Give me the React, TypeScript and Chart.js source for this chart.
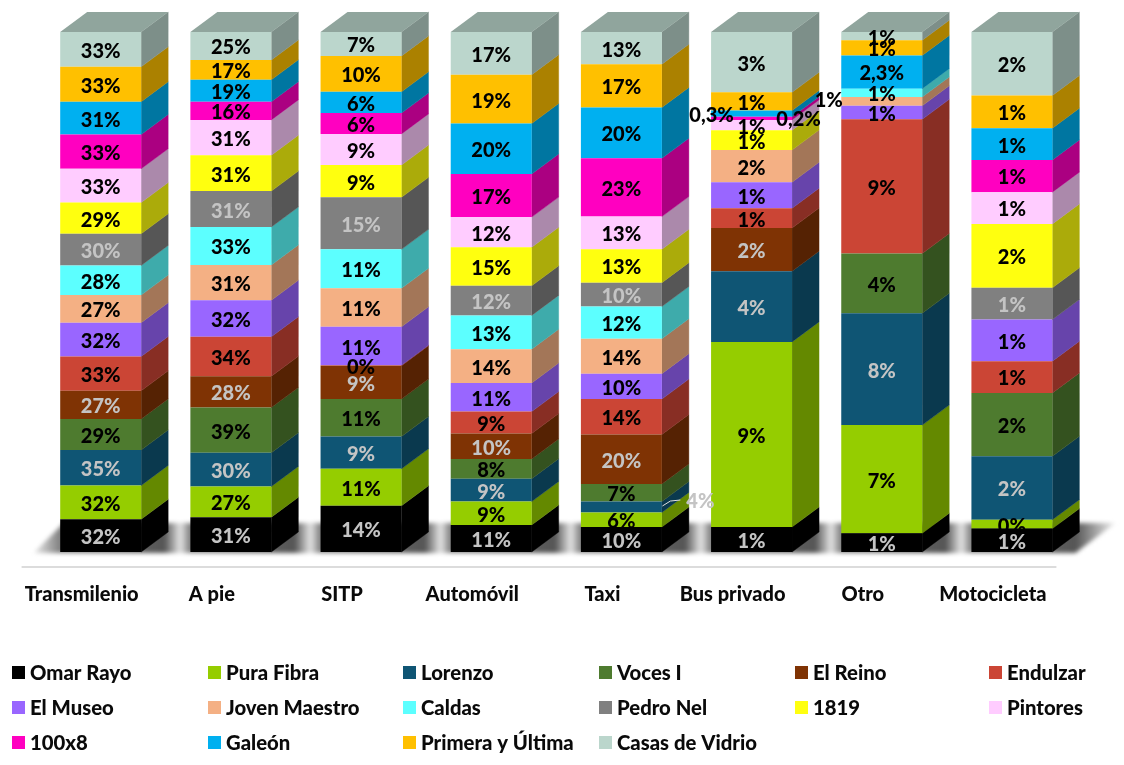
import React, { useEffect, useRef } from "react";
import { Chart, registerables } from "chart.js";

Chart.register(...registerables);

const categories = ["Transmilenio", "A pie", "SITP", "Automóvil", "Taxi", "Bus privado", "Otro", "Motocicleta"];

// Share of each column (%): bottom to top of the stack.
const omarRayo = [6.3, 6.7, 8.9, 5.2, 4.8, 4.8, 3.6, 4.5];
const puraFibra = [6.5, 5.9, 7.1, 4.5, 2.8, 35.6, 20.8, 1.7];
const lorenzo = [6.8, 6.5, 6.2, 4.4, 2.1, 13.6, 21.5, 12.2];
const vocesI = [6.0, 8.7, 7.2, 3.8, 3.4, 0, 11.5, 12.2];
const elReino = [5.4, 6.0, 6.4, 4.9, 9.5, 8.3, 0, 0];
const endulzar = [6.6, 7.6, 0.1, 4.2, 6.8, 3.8, 25.8, 6.1];
const elMuseo = [6.5, 7.0, 7.4, 5.5, 4.9, 5.0, 2.6, 8.0];
const jovenMaestro = [5.3, 6.8, 7.4, 6.5, 6.7, 6.2, 1.7, 0];
const caldas = [5.7, 7.3, 7.5, 6.5, 6.2, 0, 1.6, 0];
const pedroNel = [6.1, 6.9, 10.0, 5.7, 4.6, 0, 0, 6.1];
const s1819 = [6.0, 6.9, 6.2, 7.4, 6.4, 3.8, 0, 12.3];
const pintores = [6.5, 6.8, 6.0, 5.8, 6.3, 2.0, 0, 6.1];
const s100x8 = [6.6, 3.5, 4.0, 8.3, 11.2, 0.6, 0, 6.2];
const galeon = [6.3, 4.2, 4.1, 9.7, 9.8, 1.2, 6.4, 6.1];
const primera = [6.7, 3.8, 6.9, 9.4, 8.3, 3.5, 2.9, 6.3];
const casas = [6.7, 5.4, 4.6, 8.2, 6.2, 11.6, 1.6, 12.2];

// Printed data labels
const omarRayoLabels = ["32%", "31%", "14%", "11%", "10%", "1%", "1%", "1%"];
const puraFibraLabels = ["32%", "27%", "11%", "9%", "6%", "9%", "7%", "0%"];
const lorenzoLabels = ["35%", "30%", "9%", "9%", "4%", "4%", "8%", "2%"];
const vocesILabels = ["29%", "39%", "11%", "8%", "7%", "", "4%", "2%"];
const elReinoLabels = ["27%", "28%", "9%", "10%", "20%", "2%", "", ""];
const endulzarLabels = ["33%", "34%", "0%", "9%", "14%", "1%", "9%", "1%"];
const elMuseoLabels = ["32%", "32%", "11%", "11%", "10%", "1%", "1%", "1%"];
const jovenMaestroLabels = ["27%", "31%", "11%", "14%", "14%", "2%", "1%", ""];
const caldasLabels = ["28%", "33%", "11%", "13%", "12%", "", "1%", ""];
const pedroNelLabels = ["30%", "31%", "15%", "12%", "10%", "", "", "1%"];
const s1819Labels = ["29%", "31%", "9%", "15%", "13%", "1%", "", "2%"];
const pintoresLabels = ["33%", "31%", "9%", "12%", "13%", "1%", "", "1%"];
const s100x8Labels = ["33%", "16%", "6%", "17%", "23%", "0,2%", "", "1%"];
const galeonLabels = ["31%", "19%", "6%", "20%", "20%", "0,3%", "2,3%", "1%"];
const primeraLabels = ["33%", "17%", "10%", "19%", "17%", "1%", "1%", "1%"];
const casasLabels = ["33%", "25%", "7%", "17%", "13%", "3%", "1%", "2%"];

const seriesNames = ["Omar Rayo", "Pura Fibra", "Lorenzo", "Voces I", "El Reino", "Endulzar", "El Museo", "Joven Maestro", "Caldas", "Pedro Nel", "1819", "Pintores", "100x8", "Galeón", "Primera y Última", "Casas de Vidrio"];
const seriesValues = [omarRayo, puraFibra, lorenzo, vocesI, elReino, endulzar, elMuseo, jovenMaestro, caldas, pedroNel, s1819, pintores, s100x8, galeon, primera, casas];
const seriesLabels = [omarRayoLabels, puraFibraLabels, lorenzoLabels, vocesILabels, elReinoLabels, endulzarLabels, elMuseoLabels, jovenMaestroLabels, caldasLabels, pedroNelLabels, s1819Labels, pintoresLabels, s100x8Labels, galeonLabels, primeraLabels, casasLabels];
const seriesColors = ["#000000", "#95CD00", "#0F5574", "#4E7B2F", "#7F3304", "#CB4535", "#9966FF", "#F4B084", "#5CFFFF", "#808080", "#FFFF0F", "#FFCCFF", "#FF00C0", "#00B0F0", "#FFC000", "#BBD6CC"];
const lightLabelSeries = [0, 2, 4, 9];

const FONT = "Lato, Carlito, sans-serif";
const DEPTH_X = 27;
const DEPTH_Y = 20;
const SIDE_SHADE = 0.67;
const TOP_SHADE = 0.77;

// label displacement "series-category": [dx, dy]
const labelShift: Record<string, [number, number]> = {
  "2-4": [79, -7],
  "13-5": [-40, 0],
  "12-5": [47, -1],
  "7-6": [-53, -3],
};

const legendColumns = [12, 208, 403, 599, 795, 989];
const legendRows = [672, 707, 742];

function shade(hex: string, k: number) {
  const n = parseInt(hex.slice(1), 16);
  const c = (v: number) => Math.round(v * k);
  return `rgb(${c((n >> 16) & 255)},${c((n >> 8) & 255)},${c(n & 255)})`;
}

const cube = {
  id: "cube",
  beforeDatasetsDraw(chart: any) {
    const { ctx, chartArea } = chart;
    const base = chartArea.bottom;
    const bars = chart.getDatasetMeta(0).data;
    const halfW = bars[0].width / 2;
    const x0 = chartArea.left - 2;
    const x1 = bars[bars.length - 1].x + halfW + DEPTH_X + 36;
    const floorTop = base - DEPTH_Y - 9;

    // floor shadow
    const g = ctx.createLinearGradient(x0, 0, x1, 0);
    const stop = (x: number, col: string) => g.addColorStop(Math.min(1, Math.max(0, (x - x0) / (x1 - x0))), col);
    stop(x0, "#ececec");
    bars.forEach((b: any, i: number) => {
      stop(b.x - halfW, "#808080");
      stop(b.x + halfW + DEPTH_X - 4, "#555555");
      if (i < bars.length - 1) stop(b.x + halfW + DEPTH_X + 12, "#e4e4e4");
    });
    stop(x1, "#f0f0f0");
    ctx.save();
    ctx.filter = "blur(2px)";
    ctx.fillStyle = g;
    ctx.beginPath();
    ctx.moveTo(x0, base + 1);
    ctx.lineTo(x0 + DEPTH_X + 3, floorTop);
    ctx.lineTo(x1, floorTop);
    ctx.lineTo(x1 - 40, base + 1);
    ctx.closePath();
    ctx.fill();
    ctx.restore();

    // floor line
    ctx.save();
    ctx.strokeStyle = "#dcdcdc";
    ctx.lineWidth = 2;
    ctx.beginPath();
    ctx.moveTo(chartArea.left - 14, base + 15);
    ctx.lineTo(bars[bars.length - 1].x + halfW + 4, base + 15);
    ctx.stroke();
    ctx.restore();

    // side faces
    chart.data.datasets.forEach((ds: any, di: number) => {
      chart.getDatasetMeta(di).data.forEach((b: any) => {
        const top = Math.min(b.y, b.base);
        const bot = Math.max(b.y, b.base);
        if (bot - top <= 0) return;
        const r = b.x + b.width / 2;
        const col = shade(ds.backgroundColor, SIDE_SHADE);
        ctx.fillStyle = col;
        ctx.strokeStyle = col;
        ctx.lineWidth = 0.4;
        ctx.beginPath();
        ctx.moveTo(r, top);
        ctx.lineTo(r + DEPTH_X, top - DEPTH_Y);
        ctx.lineTo(r + DEPTH_X, bot - DEPTH_Y);
        ctx.lineTo(r, bot);
        ctx.closePath();
        ctx.fill();
        ctx.stroke();
      });
    });

    // top faces
    const lastIdx = chart.data.datasets.length - 1;
    const topCol = shade(chart.data.datasets[lastIdx].backgroundColor, TOP_SHADE);
    chart.getDatasetMeta(lastIdx).data.forEach((b: any) => {
      const l = b.x - b.width / 2;
      const r = b.x + b.width / 2;
      ctx.fillStyle = topCol;
      ctx.beginPath();
      ctx.moveTo(l, b.y);
      ctx.lineTo(l + DEPTH_X, b.y - DEPTH_Y);
      ctx.lineTo(r + DEPTH_X, b.y - DEPTH_Y);
      ctx.lineTo(r, b.y);
      ctx.closePath();
      ctx.fill();
    });
  },
  afterDatasetsDraw(chart: any) {
    const { ctx } = chart;
    ctx.save();
    ctx.font = `900 20px ${FONT}`;
    ctx.textAlign = "center";
    ctx.textBaseline = "middle";
    chart.data.datasets.forEach((ds: any, di: number) => {
      chart.getDatasetMeta(di).data.forEach((b: any, ci: number) => {
        const text = seriesLabels[di][ci];
        if (!text) return;
        const [dx, dy] = labelShift[`${di}-${ci}`] || [0, 0];
        const x = b.x + dx;
        const y = (b.y + b.base) / 2 + dy + 2;
        const light = lightLabelSeries.includes(di);
        if (dx > 60) {
          ctx.strokeStyle = "#e0e0e0";
          ctx.lineWidth = 1;
          ctx.beginPath();
          ctx.moveTo(x - 38, y + 4);
          ctx.lineTo(x - 30, y - 1);
          ctx.lineTo(x - 20, y - 2);
          ctx.stroke();
        }
        ctx.fillStyle = light ? "#C4C4C4" : "#000000";
        ctx.fillText(text, x, y);
      });
    });
    ctx.restore();
  },
  afterDraw(chart: any) {
    const { ctx } = chart;
    ctx.save();
    ctx.font = `900 20.3px ${FONT}`;
    ctx.textAlign = "left";
    ctx.textBaseline = "middle";
    chart.data.datasets.forEach((ds: any, i: number) => {
      const x = legendColumns[i % legendColumns.length];
      const y = legendRows[Math.floor(i / legendColumns.length)];
      ctx.fillStyle = ds.backgroundColor;
      ctx.fillRect(x, y - 6, 13, 13);
      ctx.fillStyle = "#0a0a0a";
      ctx.fillText(ds.label, x + 18, y + 1);
    });
    ctx.restore();
  },
};

export default function App() {
  const ref = useRef<HTMLCanvasElement>(null);
  useEffect(() => {
    const chart = new Chart(ref.current!, {
      type: "bar",
      data: {
        labels: categories,
        datasets: seriesNames.map((label, i) => ({
          label,
          data: seriesValues[i],
          backgroundColor: seriesColors[i],
          borderWidth: 0,
          categoryPercentage: 1,
          barPercentage: 0.622,
        })),
      },
      options: {
        responsive: false,
        animation: false,
        layout: { padding: { left: 35.6, right: 47, top: 32, bottom: 113 } },
        plugins: { legend: { display: false }, tooltip: { enabled: false } },
        scales: {
          x: {
            stacked: true,
            grid: { display: false, drawTicks: false },
            border: { display: false },
            afterFit: (s: any) => { s.height = 100; },
            ticks: {
              autoSkip: false,
              maxRotation: 0,
              padding: 31,
              labelOffset: -19,
              color: "#0a0a0a",
              font: { family: FONT, size: 20, weight: "900" },
            },
          },
          y: { stacked: true, min: 0, max: 100, display: false },
        },
      },
      plugins: [cube],
    } as any);
    return () => chart.destroy();
  }, []);
  return (
    <div style={{ position: "absolute", left: 0, top: 0, width: 1124, height: 765, background: "#fff" }}>
      <canvas ref={ref} width={1124} height={765} style={{ display: "block" }} />
    </div>
  );
}
